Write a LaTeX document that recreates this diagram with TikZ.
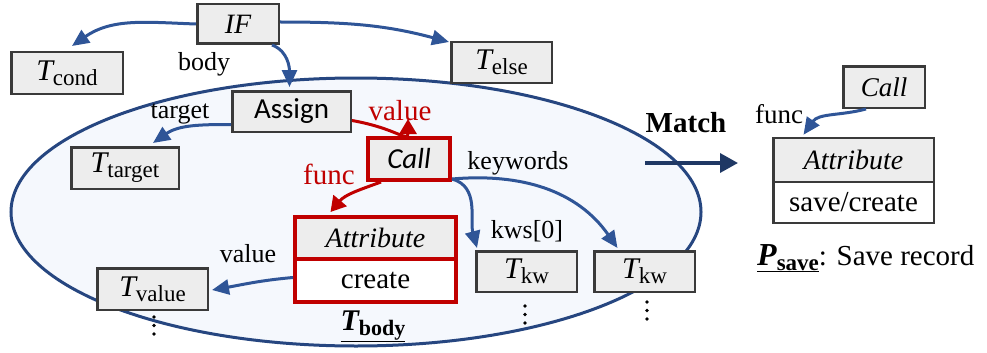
\documentclass[tikz,border=0pt]{standalone}
\usepackage{fontspec}
\setmainfont{Liberation Serif}
\newfontfamily\calfont{Carlito}
\usetikzlibrary{arrows.meta,calc}
\definecolor{boxfill}{HTML}{EDEDED}
\definecolor{boxdraw}{HTML}{3A3A3A}
\definecolor{arrblue}{HTML}{2F5597}
\definecolor{ellblue}{HTML}{264680}
\definecolor{ellfill}{HTML}{F5F8FD}
\definecolor{redc}{HTML}{C00000}
\definecolor{navyc}{HTML}{1F3864}
\newcommand{\fs}[1]{\fontsize{#1}{#1}\selectfont}
\newcommand{\Tsb}[1]{{\fs{30}\itshape T}\raisebox{-5pt}{\fs{23}#1}}
\begin{document}
\begin{tikzpicture}[x=1pt,y=1pt,
  gbox/.style={draw=boxdraw,fill=boxfill,line width=2.5pt,inner sep=0pt,rectangle},
  rbox/.style={draw=redc,line width=4pt,inner sep=0pt,rectangle},
  barrow/.style={draw=arrblue,line width=3pt,-{Triangle[length=17pt,width=15pt]}},
  rarrow/.style={draw=redc,line width=3pt,-{Triangle[length=15pt,width=17pt]}},
  lbl/.style={inner sep=0pt,font=\fs{26}},
  rlbl/.style={inner sep=0pt,font=\fs{29},text=redc},
  dotc/.style={fill=black}
]
\useasboundingbox (0,0) rectangle (987,-353);
% body region
\draw[ellblue,fill=ellfill,line width=3pt] (356,-212) ellipse [x radius=345pt,y radius=134pt];

% nodes
\node[gbox,minimum width=81.5pt,minimum height=39.5pt] (if) at (238,-24) {\fs{28}\itshape IF};
\node[gbox,minimum width=111.5pt,minimum height=41.5pt] (tcond) at (67,-73) {\Tsb{cond}};
\node[gbox,minimum width=100.5pt,minimum height=40.5pt] (telse) at (501.5,-62.5) {\Tsb{else}};
\node[gbox,minimum width=118.5pt,minimum height=40.5pt] (assign) at (291.5,-111.5) {\calfont\fs{29}Assign};
\node[gbox,minimum width=107.5pt,minimum height=41.5pt] (ttarget) at (125,-168) {\Tsb{target}};
\node[rbox,fill=boxfill,minimum width=82pt,minimum height=42pt] (call) at (409,-159) {\calfont\itshape\fs{29}Call};
\node[rbox,fill=boxfill,minimum width=161pt,minimum height=42pt] (attrT) at (375.5,-238) {\fs{28}\itshape Attribute};
\node[rbox,fill=white,minimum width=161pt,minimum height=43pt] (attrB) at (375.5,-280.5) {\fs{29}create};
\node[gbox,minimum width=110.5pt,minimum height=41.5pt] (tvalue) at (152.5,-289) {\Tsb{value}};
\node[gbox,minimum width=100.5pt,minimum height=40.5pt] (tkw1) at (526.5,-271.5) {\Tsb{kw}};
\node[gbox,minimum width=100.5pt,minimum height=40.5pt] (tkw2) at (644.5,-271.5) {\Tsb{kw}};
\node[gbox,minimum width=81.5pt,minimum height=41.5pt] (rcall) at (884,-87) {\fs{27}\itshape Call};
\node[gbox,minimum width=160.5pt,minimum height=44pt] (rattrT) at (853.5,-160) {\fs{28}\itshape Attribute};
\node[gbox,fill=white,minimum width=160.5pt,minimum height=41pt] (rattrB) at (853.5,-202.5) {\fs{29}save/create};

% connectors
\draw[barrow] (if.west) to[out=178,in=35] ([xshift=5pt,yshift=5pt]tcond.north);
\draw[barrow] ([yshift=2pt]if.east) to[out=0,in=165] ([xshift=-1pt,yshift=-1pt]telse.north west);
\draw[barrow] ([xshift=-8pt]if.south east) to[out=-20,in=90] ([xshift=-2pt,yshift=3pt]assign.north);
\draw[barrow] ([yshift=-13pt]assign.west) to[out=180,in=35] ([xshift=28pt,yshift=3pt]ttarget.north);
\draw[rarrow] ([yshift=-9pt]assign.east) .. controls +(45,-8) and +(0,-24) .. ([xshift=-1pt,yshift=17pt]call.north);
\draw[rarrow] ([xshift=-28pt]call.south) to[out=200,in=50] ([xshift=-45pt,yshift=3pt]attrT.north);
\draw[barrow] ([yshift=3pt]call.south east) to[out=-15,in=105] ([xshift=2pt,yshift=2pt]tkw1.north west);
\draw[barrow] ([yshift=3pt]call.south east) to[out=5,in=125] ([xshift=-27pt,yshift=2pt]tkw2.north);
\draw[barrow] ([yshift=3pt]attrB.west) to[out=185,in=10] ([xshift=3pt,yshift=-1pt]tvalue.east);
\draw[barrow] ([xshift=-18pt]rcall.south) to[out=195,in=55] ([xshift=-50pt,yshift=2pt]rattrT.north);
\coordinate (mstart) at (645,-163);
\coordinate (mend) at (738,-163);
\draw[navyc,line width=3.5pt,-{Triangle[length=18pt,width=19pt]}] (mstart) -- (mend);

% labels
\node[lbl] (lbody) at (204,-64) {body};
\node[lbl] (ltarget) at (180,-114) {target};
\node[rlbl] (lvalue) at (400,-111) {value};
\node[rlbl] (lfunc) at (329,-174) {func};
\node[lbl] (lkw) at (518,-163) {keywords};
\node[lbl] (lkws) at (527,-231) {kws[0]};
\node[lbl] (lval2) at (248,-254) {value};
\node[inner sep=0pt,font=\fs{29}\bfseries] (match) at (686,-123) {Match};
\node[inner sep=0pt,font=\fs{27}] (lfunc2) at (779,-114) {func};
\node[inner sep=0pt,anchor=base west] (psave) at (757,-265) {\underline{{\fs{32}\bfseries\itshape P}\raisebox{-5pt}{\fs{23}\bfseries save}}\fs{29}: Save record};
\node[inner sep=0pt,anchor=base] (tbody) at (373,-330) {\underline{{\fs{30}\bfseries\itshape T}\raisebox{-5pt}{\fs{22}\bfseries body}}};

% vertical dots
\foreach \yy in {317,325.5,334} \fill[dotc] (154,-\yy) circle (1.9pt);
\foreach \yy in {306,314.5,323} \fill[dotc] (525,-\yy) circle (1.9pt);
\foreach \yy in {302,310.5,319} \fill[dotc] (647,-\yy) circle (1.9pt);
\end{tikzpicture}
\end{document}
